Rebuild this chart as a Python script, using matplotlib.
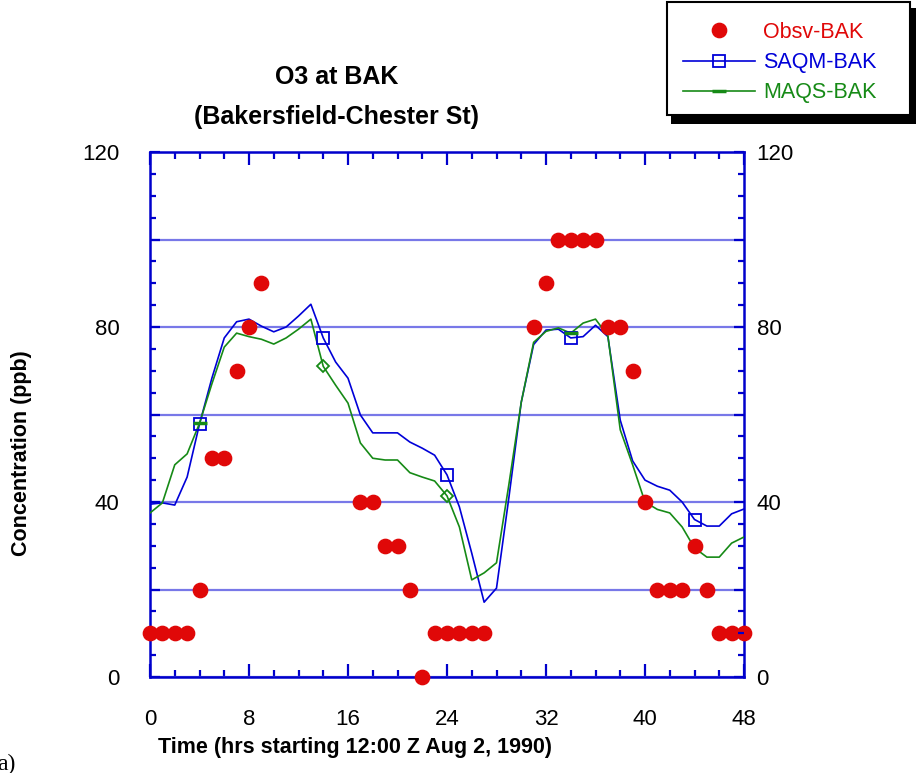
import numpy as np
import matplotlib
matplotlib.use("Agg")
import matplotlib.pyplot as plt
from matplotlib.lines import Line2D
from matplotlib.patches import Rectangle
from matplotlib.ticker import MultipleLocator, FuncFormatter

plt.rcParams['font.family'] = ['Liberation Sans', 'DejaVu Sans']

# hourly values, hour 0 = 12:00 Z Aug 2, 1990
hours = np.arange(49)
nan = np.nan
obsv = [10, 10, 10, 10, 20, 50, 50, 70, 80, 90,
        nan, nan, nan, nan, nan, nan, nan, 40, 40, 30,
        30, 20, 0, 10, 10, 10, 10, 10, nan, nan,
        nan, 80, 90, 100, 100, 100, 100, 80, 80, 70,
        40, 20, 20, 20, 30, 20, 10, 10, 10]
saqm = [39.5, 39.8, 39.3, 45.7, 57.8, 68.3, 77.5, 81.2, 81.8, 80.2,
        78.9, 80.0, 82.5, 85.2, 77.5, 72.0, 68.3, 59.9, 55.8, 55.8,
        55.8, 53.7, 52.3, 50.7, 46.2, 38.9, 28.3, 17.1, 20.3, 41.0,
        62.8, 76.0, 79.3, 79.5, 77.5, 77.8, 80.4, 77.8, 58.7, 49.4,
        45.0, 43.6, 42.7, 40.0, 36.0, 34.5, 34.5, 37.3, 38.4]
maqs = [37.5, 39.8, 48.5, 51.0, 58.0, 67.0, 75.4, 78.6, 77.8, 77.2,
        76.1, 77.5, 79.5, 81.8, 71.0, 66.7, 62.6, 53.5, 50.0, 49.6,
        49.6, 46.7, 45.7, 44.8, 41.4, 34.3, 22.2, 23.8, 26.1, 44.0,
        62.8, 76.5, 79.0, 79.8, 78.6, 80.9, 81.8, 78.0, 56.5, 48.5,
        40.0, 38.3, 37.5, 34.3, 29.5, 27.4, 27.4, 30.6, 32.0]
saqm_marks = [4, 14, 24, 34, 44]
maqs_diamonds = [14, 24]
maqs_dashes = [4, 34, 44]

RED = '#e00808'
BLUE = '#0000d8'
GREEN = '#168a16'
AXBLUE = '#0000cc'
GRID = '#7878e8'

W, H = 916, 773


def px(x, y):
    return x / W, 1 - y / H


fig = plt.figure(figsize=(W / 100, H / 100), dpi=100)
ax = fig.add_axes([150 / W, 1 - 677 / H, (744 - 150) / W, (677 - 152) / H])

ax.set_xlim(0, 48)
ax.set_ylim(0, 120)

ax.yaxis.grid(True, color=GRID, linewidth=1.6, zorder=0)
ax.set_axisbelow(True)

ax.plot(hours, saqm, color=BLUE, lw=1.2, zorder=3)
ax.plot(hours, saqm, ls='none', marker='s', ms=9, mfc='none', mec=BLUE,
        mew=1.3, markevery=saqm_marks, zorder=4)
ax.plot(hours, maqs, color=GREEN, lw=1.2, zorder=3)
ax.plot(hours, maqs, ls='none', marker='D', ms=6, mfc='none', mec=GREEN,
        mew=1.3, markevery=maqs_diamonds, zorder=4)
ax.plot(hours, maqs, ls='none', marker='_', ms=10, mec=GREEN,
        mew=2.5, markevery=maqs_dashes, zorder=4)
ax.plot(hours, obsv, ls='none', marker='o', ms=10.3, color=RED,
        clip_on=False, zorder=5)

for s in ax.spines.values():
    s.set_color(AXBLUE)
    s.set_linewidth(1.8)

ax.xaxis.set_major_locator(MultipleLocator(8))
ax.xaxis.set_minor_locator(MultipleLocator(2))
ax.yaxis.set_major_locator(MultipleLocator(20))
ax.yaxis.set_minor_locator(MultipleLocator(5))
ylab = FuncFormatter(lambda v, p: f"{v:.0f}" if v % 40 == 0 else "")
ax.yaxis.set_major_formatter(ylab)

ax.tick_params(axis='x', which='major', direction='in', length=9.5, width=1.6,
               color=AXBLUE, top=True, labelsize=16, pad=23)
ax.tick_params(axis='x', which='minor', direction='in', length=5, width=1.6,
               color=AXBLUE, top=True)
ax.tick_params(axis='y', which='major', direction='in', length=7.5, width=1.6,
               color=AXBLUE, labelsize=16, pad=22)
ax.tick_params(axis='y', which='minor', direction='in', length=4.5, width=1.6,
               color=AXBLUE)

ax2 = ax.twinx()
ax2.set_ylim(0, 120)
ax2.yaxis.set_major_locator(MultipleLocator(20))
ax2.yaxis.set_minor_locator(MultipleLocator(5))
ax2.yaxis.set_major_formatter(ylab)
ax2.tick_params(axis='y', which='major', direction='in', length=7.5, width=1.6,
                color=AXBLUE, labelsize=16, pad=9)
ax2.tick_params(axis='y', which='minor', direction='in', length=4.5, width=1.6,
                color=AXBLUE)
for s in ax2.spines.values():
    s.set_visible(False)

# titles and axis labels
fig.text(*px(337, 77), "O3 at BAK", ha='center', va='center',
         fontsize=18, fontweight='bold')
fig.text(*px(337, 117), "(Bakersfield-Chester St)", ha='center', va='center',
         fontsize=18, fontweight='bold')
fig.text(*px(22, 453), "Concentration (ppb)", rotation=90, ha='center',
         va='center', fontsize=15.5, fontweight='bold')
fig.text(*px(355, 748), "Time (hrs starting 12:00 Z Aug 2, 1990)",
         ha='center', va='center', fontsize=15.5, fontweight='bold')
fig.text(*px(-3, 764), "a)", ha='left', va='center', fontsize=17,
         family='Liberation Serif')

# legend box with drop shadow
x0, y0 = px(671, 124)
x1, y1 = px(918, 8)
fig.add_artist(Rectangle((x0, y0), x1 - x0, y1 - y0, transform=fig.transFigure,
                         facecolor='black', edgecolor='none', zorder=1))
x0, y0 = px(667, 115)
x1, y1 = px(910, 2)
fig.add_artist(Rectangle((x0, y0), x1 - x0, y1 - y0, transform=fig.transFigure,
                         facecolor='white', edgecolor='black', lw=1.5, zorder=2))

handles = [
    Line2D([], [], ls='none', marker='o', ms=10.3, color=RED),
    Line2D([], [], color=BLUE, lw=1.2, marker='s', ms=9, mfc='none',
           mec=BLUE, mew=1.3),
    Line2D([], [], color=GREEN, lw=1.2, marker='_', ms=10, mew=2.5),
]
leg = fig.legend(handles, ["Obsv-BAK", "SAQM-BAK", "MAQS-BAK"],
                 loc='upper left', bbox_to_anchor=px(683, 22),
                 frameon=False, borderpad=0, borderaxespad=0,
                 handlelength=3.35, handletextpad=0.37, labelspacing=0.42,
                 fontsize=15.5, labelcolor=[RED, BLUE, GREEN])
leg.set_zorder(3)

fig.savefig("out.png", dpi=100)
